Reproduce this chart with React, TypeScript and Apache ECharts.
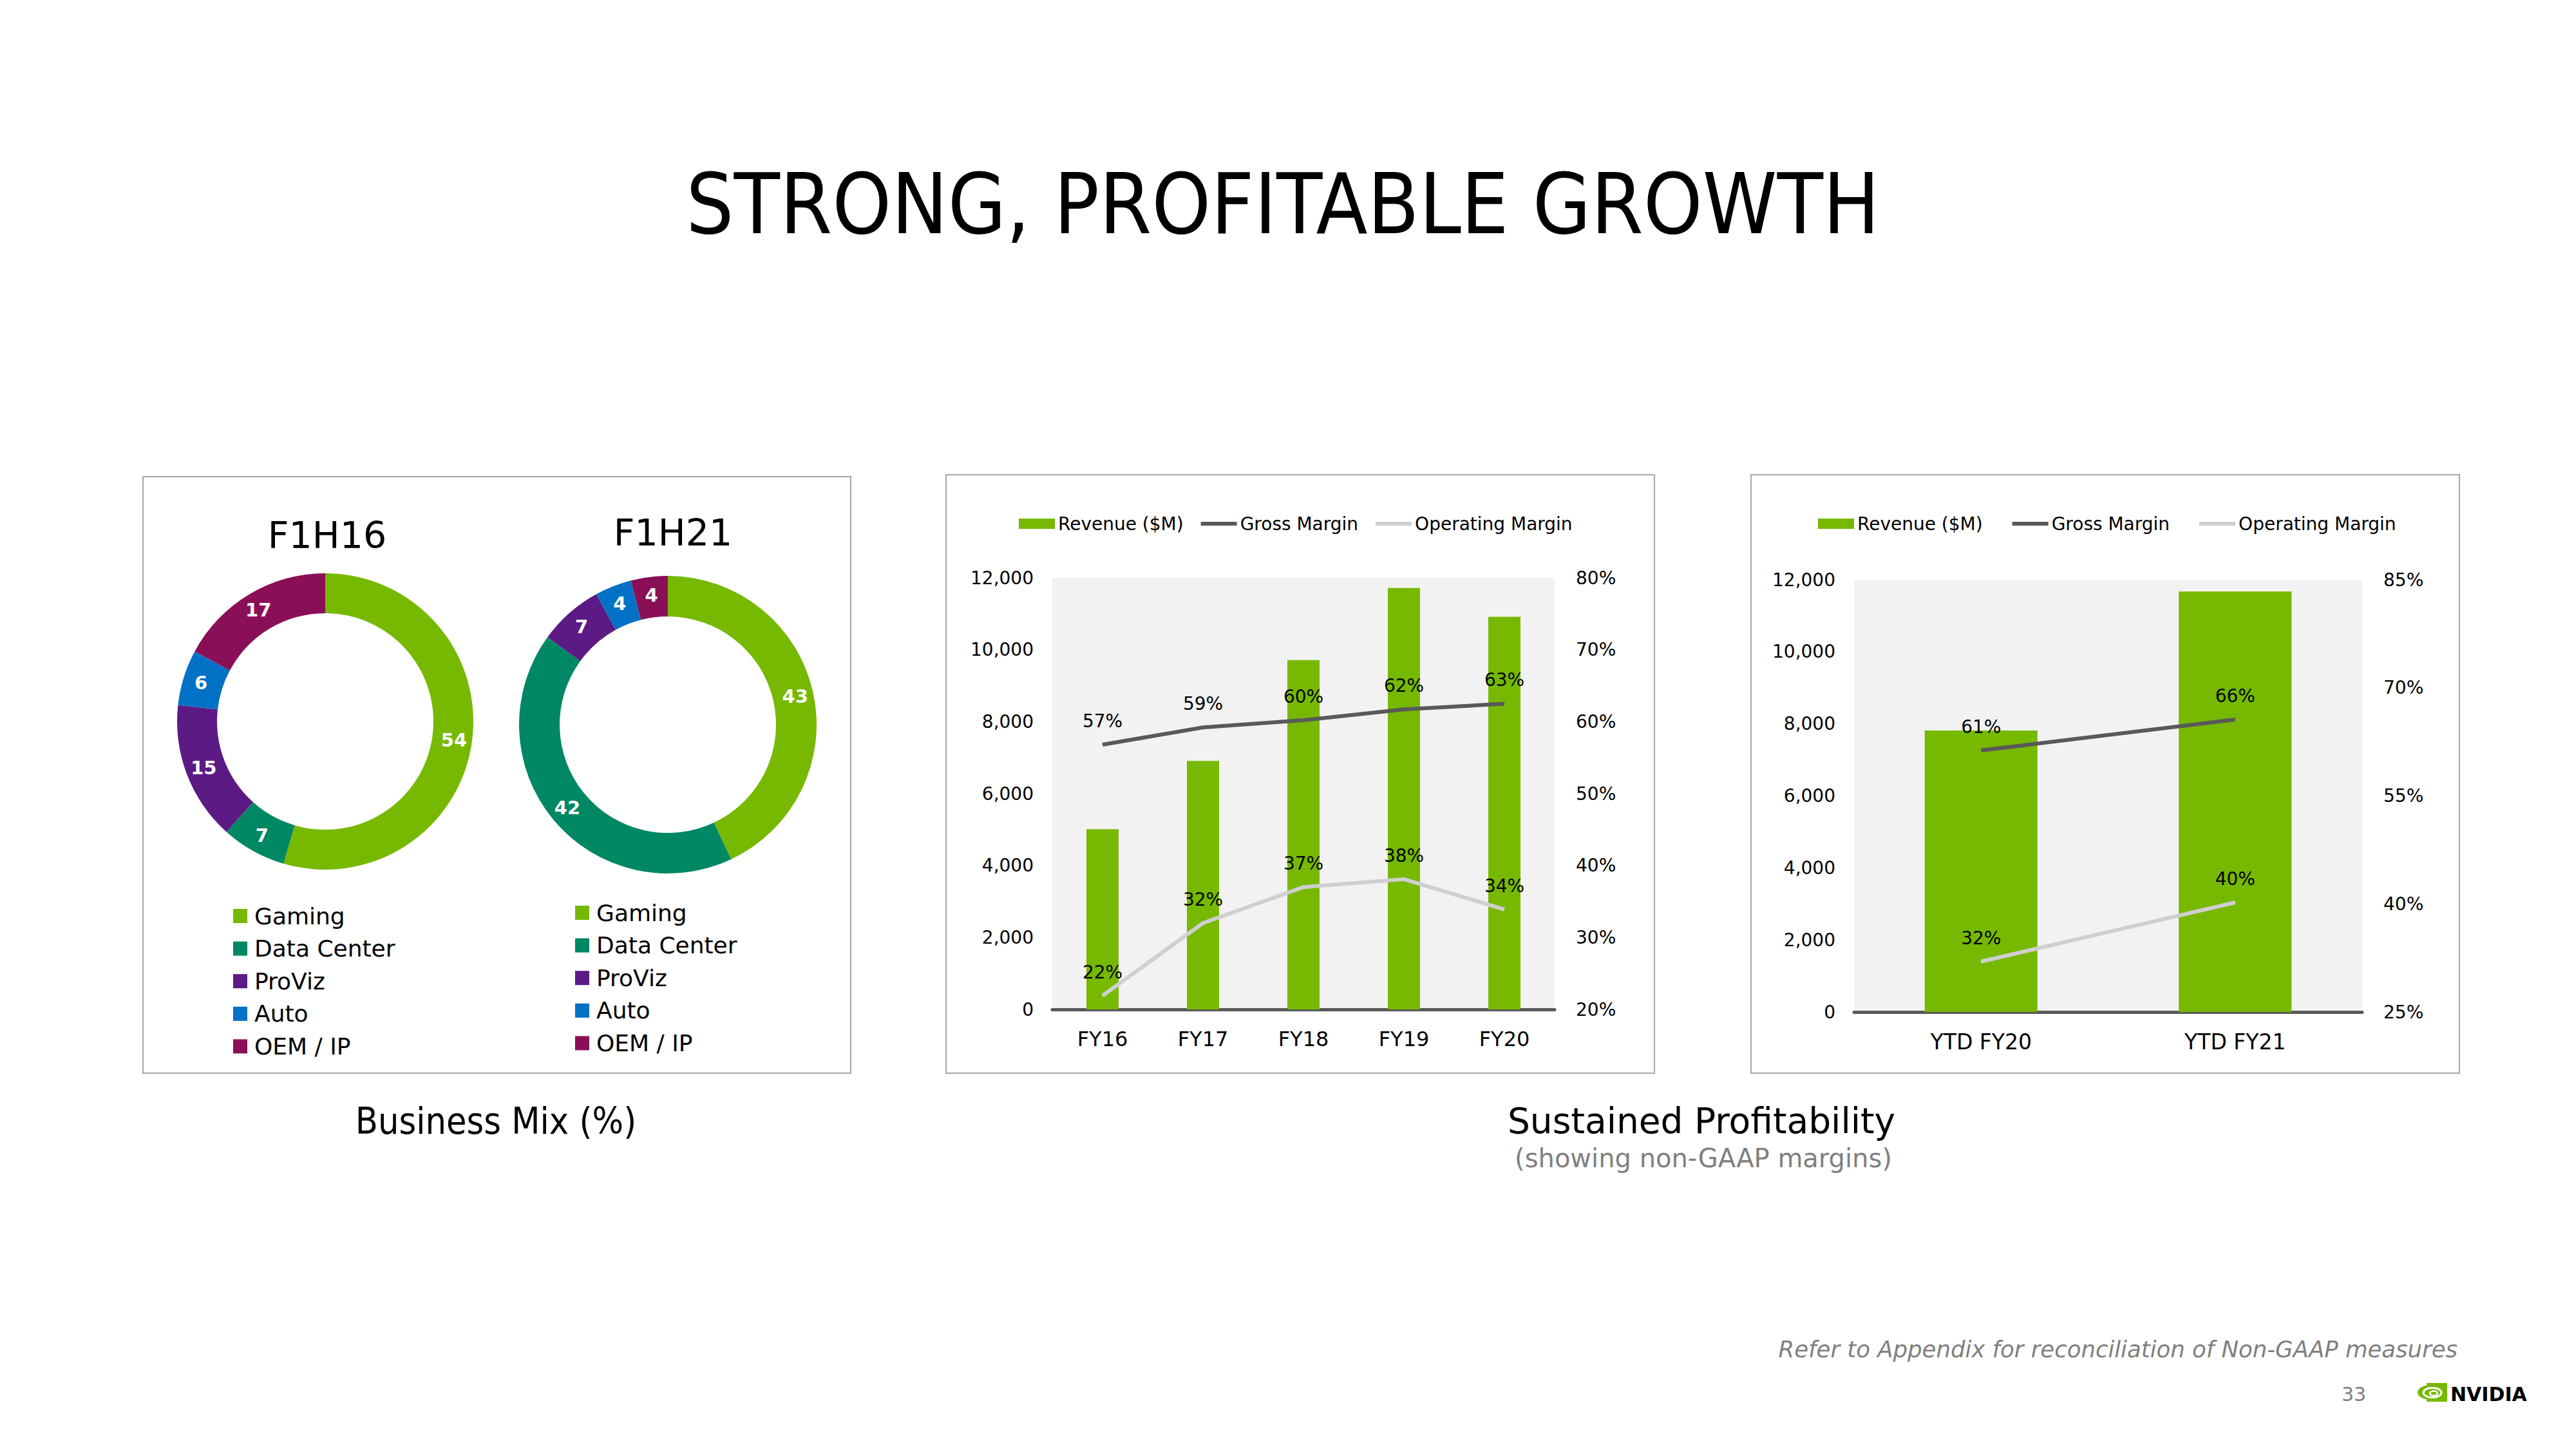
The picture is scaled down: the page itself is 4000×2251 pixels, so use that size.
import React, { useEffect, useRef } from "react";
import * as echarts from "echarts";

// ---------- data ----------
const segments = ["Gaming", "Data Center", "ProViz", "Auto", "OEM / IP"];
const segmentColors = ["#76b900", "#008763", "#5c1a84", "#0071c5", "#8b0f57"];
const mixF1H16 = [54, 7, 15, 6, 17];
const mixF1H21 = [43, 42, 7, 4, 4];

const fyYears = ["FY16", "FY17", "FY18", "FY19", "FY20"];
const fyRevenue = [5010, 6910, 9714, 11716, 10918];
const fyGrossMargin = [56.8, 59.2, 60.2, 61.7, 62.5];
const fyOperatingMargin = [21.9, 32.0, 37.0, 38.1, 33.9];

const ytdPeriods = ["YTD FY20", "YTD FY21"];
const ytdRevenue = [7813, 11672];
const ytdGrossMargin = [61.3, 65.6];
const ytdOperatingMargin = [32.0, 40.2];
const ytdMarginTicks = [25, 40, 55, 70, 85];

const seriesNames = ["Revenue ($M)", "Gross Margin", "Operating Margin"];

const GREEN = "#76b900";
const DARK = "#595959";
const LIGHT = "#cfcfcf";
const FONT = "'DejaVu Sans', sans-serif";
const COND = "'DejaVu Sans Condensed', 'DejaVu Sans', sans-serif";

const pct = (p: any) => Math.round(p.value) + "%";
const thousands = (v: number) => v.toLocaleString("en-US");

function lineSeries(name: string, data: number[], color: string, x: number, y: number) {
  return {
    type: "line",
    name,
    xAxisIndex: x,
    yAxisIndex: y,
    data,
    symbol: "circle",
    symbolSize: 1,
    itemStyle: { color },
    lineStyle: { color, width: 6 },
    label: {
      show: true,
      position: "top",
      distance: 22,
      formatter: pct,
      color: "#000",
      fontSize: 28,
      fontFamily: FONT,
    },
  };
}

function chartLegend(left: number, gap: number) {
  return {
    left,
    top: 799,
    padding: 0,
    itemWidth: 56,
    itemHeight: 16,
    itemGap: gap,
    textStyle: { fontSize: 28, color: "#000", fontFamily: FONT },
    data: [
      { name: seriesNames[0], icon: "rect" },
      { name: seriesNames[1], itemStyle: { opacity: 0 }, lineStyle: { width: 6, color: DARK } },
      { name: seriesNames[2], itemStyle: { opacity: 0 }, lineStyle: { width: 6, color: LIGHT } },
    ],
  };
}

function pieLegend(left: number, top: number) {
  return {
    orient: "vertical",
    left,
    top,
    padding: 0,
    icon: "rect",
    itemWidth: 22,
    itemHeight: 22,
    itemGap: 14.6,
    textStyle: { fontSize: 36, color: "#000", fontFamily: FONT, padding: [0, 0, 0, 6] },
    data: segments,
  };
}

function pieSeries(values: number[], cx: number, cy: number, r0: number, r1: number) {
  return {
    type: "pie",
    center: [cx, cy],
    radius: [r0, r1],
    startAngle: 90,
    clockwise: true,
    avoidLabelOverlap: false,
    label: {
      show: true,
      position: "inside",
      formatter: "{c}",
      color: "#fff",
      fontSize: 29,
      fontWeight: "bold",
      fontFamily: FONT,
    },
    labelLine: { show: false },
    emphasis: { disabled: true },
    data: segments.map((n, i) => ({ name: n, value: values[i], itemStyle: { color: segmentColors[i] } })),
  };
}

function text(x: number, y: number, t: string, size: number, opts: any = {}) {
  return {
    type: "text",
    x,
    y,
    silent: true,
    style: {
      text: t,
      fontSize: size,
      fontFamily: opts.family || FONT,
      fontWeight: opts.weight || "normal",
      fontStyle: opts.style || "normal",
      fill: opts.color || "#000",
      align: opts.align || "center",
      verticalAlign: "middle",
    },
  };
}

const panelStyle = { fill: "none", stroke: "#a6a6a6", lineWidth: 2 };

export default function App() {
  const ref = useRef<HTMLDivElement>(null);

  useEffect(() => {
    if (!ref.current) return;
    const chart = echarts.init(ref.current, null, { renderer: "svg" });

    const valueAxisLeft = (gridIndex: number) => ({
      type: "value",
      gridIndex,
      position: "left",
      min: 0,
      max: 12000,
      interval: 2000,
      axisLine: { show: false },
      axisTick: { show: false },
      splitLine: { show: false },
      axisLabel: { formatter: thousands, fontSize: 28, color: "#000", margin: 29, fontFamily: FONT },
    });

    const option: any = {
      animation: false,
      backgroundColor: "#ffffff",
      textStyle: { fontFamily: FONT },
      grid: [
        { left: 1634, top: 897, width: 780, height: 670, show: true, backgroundColor: "#f2f2f2", borderWidth: 0 },
        { left: 2879, top: 900, width: 789, height: 671, show: true, backgroundColor: "#f2f2f2", borderWidth: 0 },
      ],
      xAxis: [
        {
          type: "category",
          gridIndex: 0,
          data: fyYears,
          axisLine: { lineStyle: { color: DARK, width: 5 } },
          axisTick: { show: false },
          axisLabel: { fontSize: 32, color: "#000", margin: 30, fontFamily: FONT },
        },
        {
          type: "category",
          gridIndex: 1,
          data: ytdPeriods,
          axisLine: { lineStyle: { color: DARK, width: 5 } },
          axisTick: { show: false },
          axisLabel: { fontSize: 33, color: "#000", margin: 30, fontFamily: FONT },
        },
      ],
      yAxis: [
        valueAxisLeft(0),
        {
          type: "value",
          gridIndex: 0,
          position: "right",
          min: 20,
          max: 80,
          interval: 10,
          axisLine: { show: false },
          axisTick: { show: false },
          splitLine: { show: false },
          axisLabel: { formatter: "{value}%", fontSize: 28, color: "#000", margin: 33, fontFamily: FONT },
        },
        valueAxisLeft(1),
        {
          type: "value",
          gridIndex: 1,
          position: "right",
          min: ytdMarginTicks[0],
          max: ytdMarginTicks[ytdMarginTicks.length - 1],
          axisLine: { show: false },
          axisTick: { show: false },
          splitLine: { show: false },
          axisLabel: {
            customValues: ytdMarginTicks,
            formatter: "{value}%",
            fontSize: 28,
            color: "#000",
            margin: 33,
            fontFamily: FONT,
          },
        },
      ],
      legend: [
        pieLegend(362, 1404),
        pieLegend(893, 1399),
        chartLegend(1582, 24),
        chartLegend(2823, 43),
      ],
      series: [
        pieSeries(mixF1H16, 505, 1120, 168, 230),
        pieSeries(mixF1H21, 1037, 1125, 168, 231),
        {
          type: "bar",
          name: seriesNames[0],
          xAxisIndex: 0,
          yAxisIndex: 0,
          data: fyRevenue,
          barWidth: 50,
          itemStyle: { color: GREEN },
        },
        lineSeries(seriesNames[1], fyGrossMargin, DARK, 0, 1),
        lineSeries(seriesNames[2], fyOperatingMargin, LIGHT, 0, 1),
        {
          type: "bar",
          name: seriesNames[0],
          xAxisIndex: 1,
          yAxisIndex: 2,
          data: ytdRevenue,
          barWidth: 175,
          itemStyle: { color: GREEN },
        },
        lineSeries(seriesNames[1], ytdGrossMargin, DARK, 1, 3),
        lineSeries(seriesNames[2], ytdOperatingMargin, LIGHT, 1, 3),
      ],
      graphic: [
        { type: "rect", silent: true, z: -10, shape: { x: 222, y: 740, width: 1099, height: 926 }, style: panelStyle },
        { type: "rect", silent: true, z: -10, shape: { x: 1469, y: 737, width: 1100, height: 929 }, style: panelStyle },
        { type: "rect", silent: true, z: -10, shape: { x: 2719, y: 737, width: 1100, height: 929 }, style: panelStyle },
        text(1992, 317, "STRONG, PROFITABLE GROWTH", 130, { family: COND }),
        text(508, 831, "F1H16", 57),
        text(1045, 827, "F1H21", 57),
        text(770, 1740, "Business Mix (%)", 57, { family: COND }),
        text(2642, 1740, "Sustained Profitability", 55),
        text(2645, 1798, "(showing non-GAAP margins)", 40, { color: "#7f7f7f" }),
        text(3816, 2094, "Refer to Appendix for reconciliation of Non-GAAP measures", 35.5, {
          align: "right",
          style: "italic",
          color: "#7f7f7f",
        }),
        text(3655, 2164, "33", 30, { color: "#7f7f7f" }),
        // NVIDIA logo
        { type: "rect", silent: true, shape: { x: 3768, y: 2147, width: 32, height: 29 }, style: { fill: GREEN } },
        { type: "ellipse", silent: true, shape: { cx: 3777, cy: 2161.5, rx: 23, ry: 12 }, style: { fill: GREEN } },
        {
          type: "ellipse",
          silent: true,
          shape: { cx: 3777, cy: 2162, rx: 14, ry: 7.5 },
          style: { fill: "none", stroke: "#ffffff", lineWidth: 3 },
        },
        {
          type: "ellipse",
          silent: true,
          shape: { cx: 3779, cy: 2163, rx: 6, ry: 3.5 },
          style: { fill: "none", stroke: "#ffffff", lineWidth: 2.5 },
        },
        text(3805, 2164, "NVIDIA", 30, { weight: "bold", align: "left" }),
      ],
    };

    chart.setOption(option);
    return () => chart.dispose();
  }, []);

  return (
    <div
      ref={ref}
      style={{ position: "absolute", left: 0, top: 0, width: 4000, height: 2251, background: "#fff" }}
    />
  );
}
